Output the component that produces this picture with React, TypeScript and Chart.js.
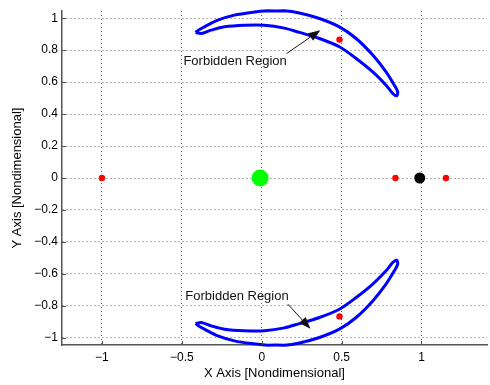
import React, { useEffect, useRef } from "react";
import { Chart, registerables } from "chart.js";

Chart.register(...registerables);

// Axis ticks
const xTicks = [-1, -0.5, 0, 0.5, 1];
const xTickLabels = ["\u22121", "\u22120.5", "0", "0.5", "1"];
const yTicks = [-1, -0.8, -0.6, -0.4, -0.2, 0, 0.2, 0.4, 0.6, 0.8, 1];
const yTickLabels = ["\u22121", "\u22120.8", "\u22120.6", "\u22120.4", "\u22120.2", "0", "0.2", "0.4", "0.6", "0.8", "1"];

// Zero-velocity curve bounding the forbidden region around L4 (outer arc, then inner arc back)
const upperX = [
  -0.414, -0.389, -0.359, -0.275, -0.171, -0.066, 0.038, 0.142, 0.236, 0.361, 0.486, 0.591, 0.695, 0.778, 0.830, 0.851, 0.845,
  0.820, 0.778, 0.695, 0.591, 0.486, 0.361, 0.236, 0.142, 0.017, -0.108, -0.233, -0.317, -0.379, -0.414,
];
const upperY = [
  0.911, 0.929, 0.946, 0.988, 1.019, 1.036, 1.046, 1.046, 1.032, 0.998, 0.946, 0.873, 0.769, 0.664, 0.581, 0.539, 0.515,
  0.529, 0.581, 0.664, 0.748, 0.821, 0.873, 0.911, 0.938, 0.956, 0.956, 0.946, 0.925, 0.904, 0.911,
];

// Forbidden region around L5
const lowerX = [
  -0.414, -0.389, -0.359, -0.275, -0.171, -0.066, 0.038, 0.142, 0.236, 0.361, 0.486, 0.591, 0.695, 0.778, 0.830, 0.851, 0.845,
  0.820, 0.778, 0.695, 0.591, 0.486, 0.361, 0.236, 0.142, 0.017, -0.108, -0.233, -0.317, -0.379, -0.414,
];
const lowerY = [
  -0.911, -0.929, -0.946, -0.988, -1.019, -1.036, -1.046, -1.046, -1.032, -0.998, -0.946, -0.873, -0.769, -0.664, -0.581, -0.539, -0.515,
  -0.529, -0.581, -0.664, -0.748, -0.821, -0.873, -0.911, -0.938, -0.956, -0.956, -0.946, -0.925, -0.904, -0.911,
];

// Lagrange points L3, L1, L2, L4, L5
const lagrangeX = [-1.0, 0.837, 1.153, 0.487, 0.487];
const lagrangeY = [0, 0, 0, 0.866, -0.866];

// Primaries
const earthX = [-0.01];
const earthY = [0];
const moonX = [0.989];
const moonY = [0];

// Text callouts with arrows, in data units
const calloutText = ["Forbidden Region", "Forbidden Region"];
const calloutX = [-0.49, -0.478];
const calloutY = [0.727, -0.742];
const arrowTailX = [0.155, 0.163];
const arrowTailY = [0.778, -0.789];
const arrowTipX = [0.367, 0.305];
const arrowTipY = [0.925, -0.944];

const FONT = "'Liberation Sans', Arial, Helvetica, sans-serif";
const AXIS_COLOR = "#555555";

const toPoints = (xs: number[], ys: number[]) => xs.map((x, i) => ({ x, y: ys[i] }));

const calloutPlugin = {
  id: "callouts",
  afterDatasetsDraw(chart: any) {
    const { ctx, scales } = chart;
    const sx = scales.x;
    const sy = scales.y;
    ctx.save();
    ctx.fillStyle = "#111";
    ctx.strokeStyle = "#111";
    ctx.font = `13px ${FONT}`;
    ctx.textAlign = "left";
    ctx.textBaseline = "middle";
    for (let i = 0; i < calloutText.length; i++) {
      ctx.fillText(calloutText[i], sx.getPixelForValue(calloutX[i]), sy.getPixelForValue(calloutY[i]));
      const x0 = sx.getPixelForValue(arrowTailX[i]);
      const y0 = sy.getPixelForValue(arrowTailY[i]);
      const x1 = sx.getPixelForValue(arrowTipX[i]);
      const y1 = sy.getPixelForValue(arrowTipY[i]);
      const ang = Math.atan2(y1 - y0, x1 - x0);
      const headLen = 12;
      const headHalf = 4.5;
      const bx = x1 - headLen * Math.cos(ang);
      const by = y1 - headLen * Math.sin(ang);
      ctx.lineWidth = 1;
      ctx.beginPath();
      ctx.moveTo(x0, y0);
      ctx.lineTo(bx, by);
      ctx.stroke();
      ctx.beginPath();
      ctx.moveTo(x1, y1);
      ctx.lineTo(bx + headHalf * Math.sin(ang), by - headHalf * Math.cos(ang));
      ctx.lineTo(bx - headHalf * Math.sin(ang), by + headHalf * Math.cos(ang));
      ctx.closePath();
      ctx.fill();
    }
    ctx.restore();
  },
};

// Short inward tick marks on the left and bottom axes
const inwardTicksPlugin = {
  id: "inwardTicks",
  afterDraw(chart: any) {
    const { ctx, chartArea, scales } = chart;
    ctx.save();
    ctx.strokeStyle = AXIS_COLOR;
    ctx.lineWidth = 1;
    ctx.beginPath();
    for (const v of xTicks) {
      const px = Math.round(scales.x.getPixelForValue(v)) + 0.5;
      ctx.moveTo(px, chartArea.bottom);
      ctx.lineTo(px, chartArea.bottom - 4);
    }
    for (const v of yTicks) {
      const py = Math.round(scales.y.getPixelForValue(v)) + 0.5;
      ctx.moveTo(chartArea.left, py);
      ctx.lineTo(chartArea.left + 4, py);
    }
    ctx.stroke();
    ctx.restore();
  },
};

export default function App() {
  const canvasRef = useRef<HTMLCanvasElement | null>(null);

  useEffect(() => {
    const canvas = canvasRef.current;
    if (!canvas) return;
    const chart = new Chart(canvas, {
      type: "scatter",
      data: {
        datasets: [
          {
            data: toPoints(upperX, upperY),
            showLine: true,
            borderColor: "#0000ff",
            borderWidth: 3,
            pointRadius: 0,
            tension: 0.3,
            fill: false,
            clip: false,
          },
          {
            data: toPoints(lowerX, lowerY),
            showLine: true,
            borderColor: "#0000ff",
            borderWidth: 3,
            pointRadius: 0,
            tension: 0.3,
            fill: false,
            clip: false,
          },
          {
            data: toPoints(lagrangeX, lagrangeY),
            backgroundColor: "#ff0000",
            borderWidth: 0,
            pointRadius: 3.2,
          },
          {
            data: toPoints(earthX, earthY),
            backgroundColor: "#00ff00",
            borderWidth: 0,
            pointRadius: 8.5,
          },
          {
            data: toPoints(moonX, moonY),
            backgroundColor: "#000000",
            borderWidth: 0,
            pointRadius: 5.5,
          },
        ],
      },
      options: {
        animation: false,
        responsive: false,
        devicePixelRatio: 1,
        events: [],
        layout: { autoPadding: false, padding: { top: 11, right: 3, left: 0, bottom: 0 } },
        plugins: { legend: { display: false }, tooltip: { enabled: false } },
        scales: {
          x: {
            type: "linear",
            min: -1.25,
            max: 1.41,
            afterBuildTicks: (s: any) => {
              s.ticks = xTicks.map((v) => ({ value: v }));
            },
            afterFit: (s: any) => {
              s.height = 40;
              s.paddingLeft = 0;
              s.paddingRight = 0;
            },
            ticks: {
              autoSkip: false,
              maxRotation: 0,
              padding: 5,
              color: "#000",
              font: { family: FONT, size: 12 },
              callback: (_v: any, i: number) => xTickLabels[i],
            },
            grid: { color: "rgba(0,0,0,0.6)", lineWidth: 1, drawTicks: false },
            border: { display: true, color: AXIS_COLOR, width: 1.5, dash: [1, 3] },
            title: {
              display: true,
              text: "X Axis [Nondimensional]",
              color: "#000",
              font: { family: FONT, size: 13 },
              padding: { top: 0, bottom: 4 },
            },
          },
          y: {
            type: "linear",
            min: -1.045,
            max: 1.045,
            afterBuildTicks: (s: any) => {
              s.ticks = yTicks.map((v) => ({ value: v }));
            },
            afterFit: (s: any) => {
              s.width = 62;
              s.paddingTop = 0;
              s.paddingBottom = 0;
            },
            ticks: {
              autoSkip: false,
              padding: 4,
              color: "#000",
              font: { family: FONT, size: 12 },
              callback: (_v: any, i: number) => yTickLabels[i],
            },
            grid: { color: "rgba(0,0,0,0.6)", lineWidth: 1, drawTicks: false },
            border: { display: true, color: AXIS_COLOR, width: 1.5, dash: [1, 3] },
            title: {
              display: true,
              text: "Y Axis [Nondimensional]",
              color: "#000",
              font: { family: FONT, size: 13 },
              padding: { top: 10, bottom: 0 },
            },
          },
        },
      },
      plugins: [calloutPlugin, inwardTicksPlugin],
    } as any);
    return () => chart.destroy();
  }, []);

  return (
    <div style={{ position: "fixed", left: 0, top: 0, width: 490, height: 385, background: "#fff" }}>
      <canvas ref={canvasRef} width={490} height={385} style={{ display: "block", width: 490, height: 385 }} />
    </div>
  );
}
